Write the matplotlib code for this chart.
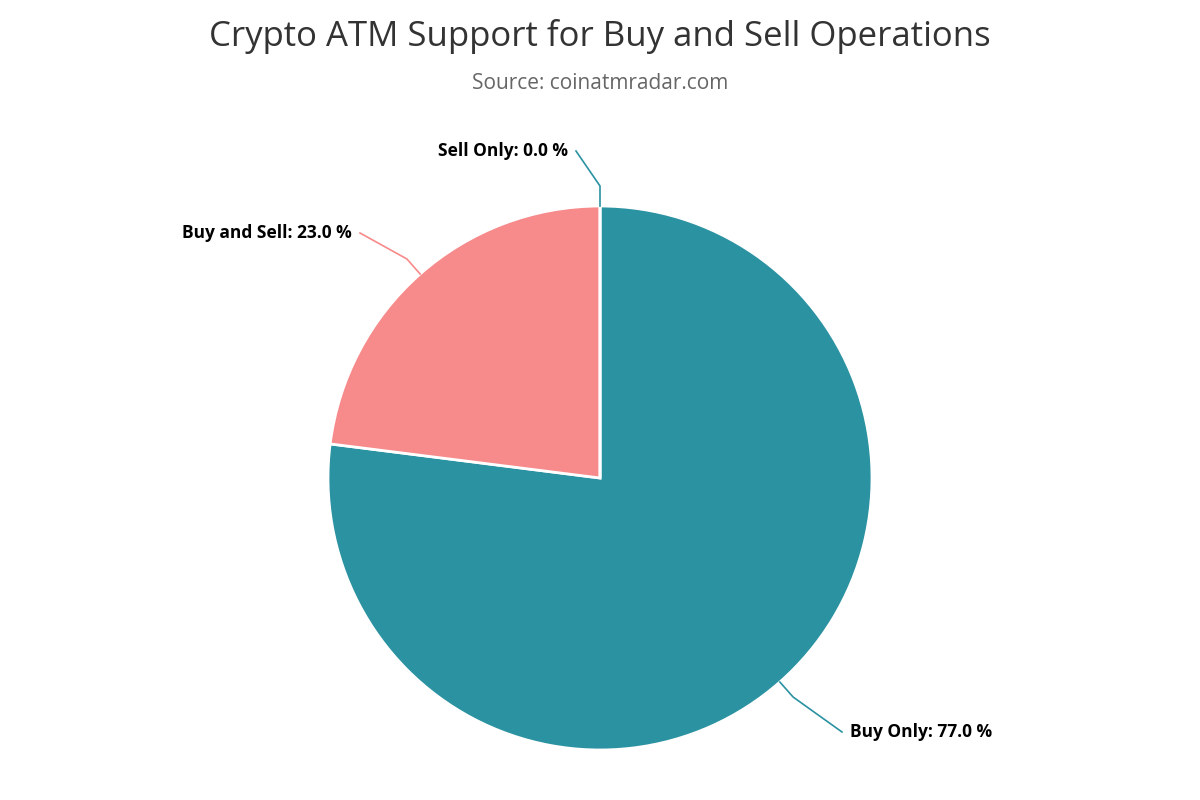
import numpy as np
import matplotlib; matplotlib.use("Agg")
import matplotlib.pyplot as plt

labels = ["Buy Only", "Buy and Sell", "Sell Only"]
shares = [77.0, 23.0, 0.0]
colors = ["#2A92A1", "#F78A8A", "#2A92A1"]

fig = plt.figure(figsize=(12, 8), dpi=100)
ax = fig.add_axes([0, 0, 1, 1])
ax.set_xlim(0, 1200); ax.set_ylim(0, 800); ax.set_aspect("equal"); ax.axis("off")

cx, cy, r = 600, 800 - 478, 272
wedges, _ = ax.pie(shares, colors=colors, startangle=90, counterclock=False,
                   center=(cx, cy), radius=r, frame=True,
                   wedgeprops=dict(edgecolor="white", linewidth=2))
ax.set_xlim(0, 1200); ax.set_ylim(0, 800); ax.axis("off")

fig.text(0.5, 0.955, "Crypto ATM Support for Buy and Sell Operations",
         ha="center", va="center", fontsize=25, color="#333333", family="Open Sans")
fig.text(0.5, 0.896, "Source: coinatmradar.com",
         ha="center", va="center", fontsize=15, color="#666666", family="Open Sans")

# label anchors (text end / start) in pixel space
text_pos = {"Buy Only": (850, 800 - 732, "left"),
            "Buy and Sell": (352, 800 - 233, "right"),
            "Sell Only": (568, 800 - 151, "right")}
for w, lab, v in zip(wedges, labels, shares):
    ang = np.deg2rad((w.theta1 + w.theta2) / 2)
    x0, y0 = cx + r * np.cos(ang), cy + r * np.sin(ang)
    x1, y1 = cx + (r + 20) * np.cos(ang), cy + (r + 20) * np.sin(ang)
    tx, ty, ha = text_pos[lab]
    ex = tx - 8 if ha == "left" else tx + 8
    lc = "#F78A8A" if lab == "Buy and Sell" else "#2A92A1"
    ax.plot([x0, x1, ex], [y0, y1, ty], color=lc, lw=1.2)
    ax.text(tx, ty, f"{lab}: {v:.1f} %", ha=ha, va="center", fontsize=12.5,
            fontweight="bold", color="black", family="Open Sans")

fig.savefig("out.png", dpi=100, facecolor="white")
